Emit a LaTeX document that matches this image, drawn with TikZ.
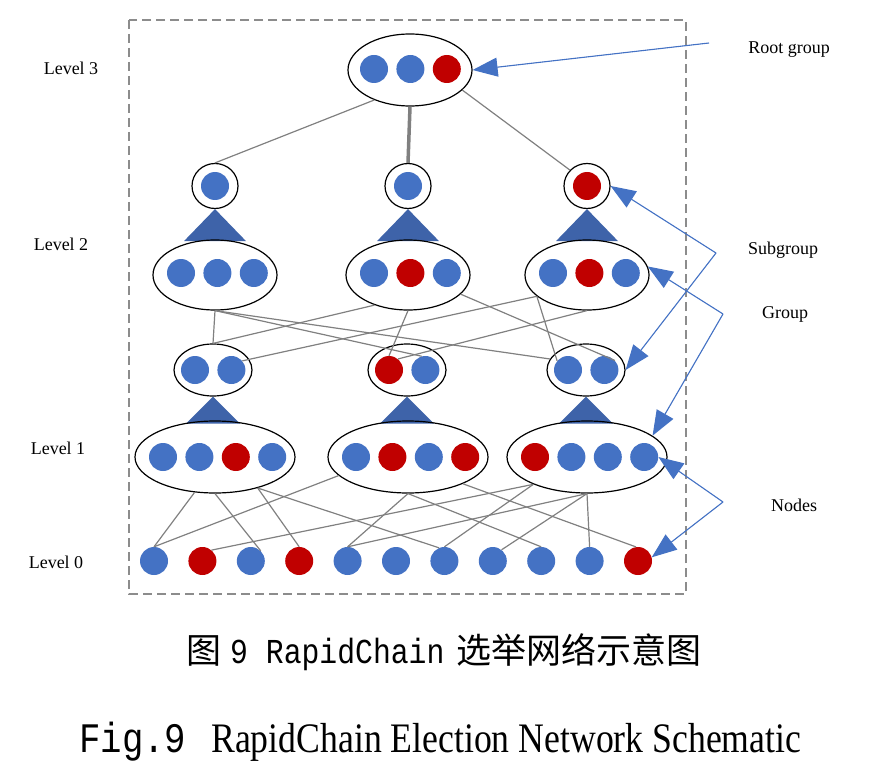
\documentclass[tikz,border=0pt]{standalone}
\usepackage{fontspec}
\setmainfont{Liberation Serif}
\newfontfamily\cjkfont{Noto Sans CJK SC}
\newfontfamily\capmono[FakeStretch=0.85]{Liberation Mono}
\newfontfamily\capserif[FakeStretch=0.85]{Liberation Serif}
\usepackage{tikz}
\usetikzlibrary{shapes.geometric, arrows.meta, positioning}
\definecolor{dotblue}{HTML}{4472C4}
\definecolor{dotred}{HTML}{C00000}
\definecolor{triblue}{HTML}{3E63A9}
\definecolor{edgegray}{HTML}{808080}
\definecolor{framegray}{HTML}{8C8C8C}
\tikzset{
  bdot/.style={
    circle, fill=dotblue, minimum size=28pt, inner sep=0pt
  },
  rdot/.style={
    bdot, fill=dotred
  },
  groupring/.style={
    ellipse, draw=black, line width=1.2pt, inner sep=0pt
  },
  edgeline/.style={
    draw=edgegray, line width=1.2pt
  },
  thickedge/.style={
    draw=edgegray, line width=3.5pt
  },
  notearrow/.style={
    -{Triangle[length=25pt, width=19pt]}, draw=dotblue, fill=dotblue,
    line width=1.1pt
  },
  levellabel/.style={
    font=\fontsize{18}{21}\selectfont, inner sep=0pt
  },
  notelabel/.style={
    font=\fontsize{18}{21}\selectfont, inner sep=0pt
  },
  framebox/.style={
    draw=framegray, line width=1.5pt, dash pattern=on 9pt off 5pt
  },
  pointer/.style={
    fill=triblue
  },
}

\begin{document}
\begin{tikzpicture}[x=1pt, y=-1pt]
  \useasboundingbox (0,0) rectangle (869,767);

  % Frame
  \draw[framebox] (129,20) rectangle (686,594);

  % Level labels
  \node[levellabel] (lv3) at (71,68) {Level 3};
  \node[levellabel] (lv2) at (61,244) {Level 2};
  \node[levellabel] (lv1) at (58,448) {Level 1};
  \node[levellabel] (lv0) at (56,562) {Level 0};

  % Level 3: root group
  \node[groupring, minimum width=124pt, minimum height=72pt] (root) at (410,70) {};
  \node[bdot] (root1) at (374,69) {};
  \node[bdot, right=8pt of root1] (root2) {};
  \node[rdot, right=8pt of root2] (root3) {};

  % Level 2: subgroups
  \node[groupring, minimum width=46pt, minimum height=45pt] (sub2a) at (215,186) {};
  \node[groupring, minimum width=46pt, minimum height=45pt] (sub2b) at (408,186) {};
  \node[groupring, minimum width=46pt, minimum height=45pt] (sub2c) at (587,186) {};
  \node[bdot] (sub2a1) at (sub2a) {};
  \node[bdot] (sub2b1) at (sub2b) {};
  \node[rdot] (sub2c1) at (sub2c) {};
  \fill[pointer] (sub2a.south) -- ++(31,32) -- ++(-62,0) -- cycle;
  \fill[pointer] (sub2b.south) -- ++(31,32) -- ++(-62,0) -- cycle;
  \fill[pointer] (sub2c.south) -- ++(31,32) -- ++(-62,0) -- cycle;

  % Level 2: groups
  \node[groupring, minimum width=124pt, minimum height=70pt] (grp2a) at (215,275) {};
  \node[groupring, minimum width=124pt, minimum height=70pt] (grp2b) at (408,275) {};
  \node[groupring, minimum width=124pt, minimum height=70pt] (grp2c) at (587,275) {};
  \node[bdot] (grp2a1) at (181,273) {};
  \node[bdot, right=8pt of grp2a1] (grp2a2) {};
  \node[bdot, right=8pt of grp2a2] (grp2a3) {};
  \node[bdot] (grp2b1) at (374,273) {};
  \node[rdot, right=8pt of grp2b1] (grp2b2) {};
  \node[bdot, right=8pt of grp2b2] (grp2b3) {};
  \node[bdot] (grp2c1) at (553,273) {};
  \node[rdot, right=8pt of grp2c1] (grp2c2) {};
  \node[bdot, right=8pt of grp2c2] (grp2c3) {};

  % Level 1: subgroups
  \node[groupring, minimum width=78pt, minimum height=52pt] (sub1a) at (213,370) {};
  \node[groupring, minimum width=78pt, minimum height=52pt] (sub1b) at (407,370) {};
  \node[groupring, minimum width=78pt, minimum height=52pt] (sub1c) at (586,370) {};
  \node[bdot] (sub1a1) at (195,370) {};
  \node[bdot, right=8pt of sub1a1] (sub1a2) {};
  \node[rdot] (sub1b1) at (389,370) {};
  \node[bdot, right=8pt of sub1b1] (sub1b2) {};
  \node[bdot] (sub1c1) at (568,370) {};
  \node[bdot, right=8pt of sub1c1] (sub1c2) {};
  \fill[pointer] (sub1a.south) -- ++(27,27) -- ++(-54,0) -- cycle;
  \fill[pointer] (sub1b.south) -- ++(27,27) -- ++(-54,0) -- cycle;
  \fill[pointer] (sub1c.south) -- ++(27,27) -- ++(-54,0) -- cycle;

  % Level 1: groups
  \node[groupring, minimum width=160pt, minimum height=72pt] (grp1a) at (215,457) {};
  \node[groupring, minimum width=160pt, minimum height=72pt] (grp1b) at (408,457) {};
  \node[groupring, minimum width=160pt, minimum height=72pt] (grp1c) at (587,457) {};
  \node[bdot] (grp1a1) at (163,457) {};
  \node[bdot, right=8pt of grp1a1] (grp1a2) {};
  \node[rdot, right=8pt of grp1a2] (grp1a3) {};
  \node[bdot, right=8pt of grp1a3] (grp1a4) {};
  \node[bdot] (grp1b1) at (356,457) {};
  \node[rdot, right=8pt of grp1b1] (grp1b2) {};
  \node[bdot, right=8pt of grp1b2] (grp1b3) {};
  \node[rdot, right=8pt of grp1b3] (grp1b4) {};
  \node[rdot] (grp1c1) at (535,457) {};
  \node[bdot, right=8pt of grp1c1] (grp1c2) {};
  \node[bdot, right=8pt of grp1c2] (grp1c3) {};
  \node[bdot, right=8pt of grp1c3] (grp1c4) {};

  % Level 0: nodes
  \node[bdot] (n0) at (154,561) {};
  \node[rdot, right=20pt of n0] (n1) {};
  \node[bdot, right=20pt of n1] (n2) {};
  \node[rdot, right=20pt of n2] (n3) {};
  \node[bdot, right=20pt of n3] (n4) {};
  \node[bdot, right=20pt of n4] (n5) {};
  \node[bdot, right=20pt of n5] (n6) {};
  \node[bdot, right=20pt of n6] (n7) {};
  \node[bdot, right=20pt of n7] (n8) {};
  \node[bdot, right=20pt of n8] (n9) {};
  \node[rdot, right=20pt of n9] (n10) {};

  % Root to level 2
  \draw[edgeline] (root.220) -- (sub2a.north);
  \draw[thickedge] (root.south) -- (sub2b.north);
  \draw[edgeline] (root.339) -- (sub2c.137);

  % Level 2 groups to level 1 subgroups
  \draw[edgeline] (grp2a.south) -- (sub1a.north);
  \draw[edgeline] (grp2a.south) -- (sub1b2.105);
  \draw[edgeline] (grp2a.south) -- (sub1c.163);
  \draw[edgeline] (grp2b.222) -- (sub1a.north);
  \draw[edgeline] (grp2b.south) -- (sub1b1.north);
  \draw[edgeline] (grp2b.340) -- (sub1c2.42);
  \draw[edgeline] (grp2c.203) -- (sub1a2.40);
  \draw[edgeline] (grp2c.south) -- (sub1b1.51);
  \draw[edgeline] (grp2c.203) -- (sub1c1.140);

  % Level 1 groups to level 0
  \draw[edgeline] (grp1a.240) -- (n0.north);
  \draw[edgeline] (grp1a.south) -- (n2.46);
  \draw[edgeline] (grp1a.324) -- (n3.north);
  \draw[edgeline] (grp1a.324) -- (n6.112);
  \draw[edgeline] (grp1b.195) -- (n0.north);
  \draw[edgeline] (grp1b.south) -- (n4.north);
  \draw[edgeline] (grp1b.south) -- (n8.north);
  \draw[edgeline] (grp1b.334) -- (n10.98);
  \draw[edgeline] (grp1c.207) -- (n1.50);
  \draw[edgeline] (grp1c.south) -- (n4.north);
  \draw[edgeline] (grp1c.207) -- (n6.north);
  \draw[edgeline] (grp1c.south) -- (n7.52);
  \draw[edgeline] (grp1c.south) -- (n9.north);

  % Annotations
  \node[notelabel] (lblroot) at (789,50) {Root group};
  \node[notelabel] (lblsub) at (783,250) {Subgroup};
  \node[notelabel] (lblgrp) at (785,314) {Group};
  \node[notelabel] (lblnode) at (794,505) {Nodes};
  \coordinate (rootarm) at (709,43);
  \coordinate (subknee) at (716,253);
  \coordinate (grpknee) at (723,314);
  \coordinate (nodeknee) at (723,502);
  \draw[notearrow] (rootarm) -- (root.east);
  \draw[notearrow] (subknee) -- (sub2c.east);
  \draw[notearrow] (subknee) -- (sub1c.east);
  \draw[notearrow] (grpknee) -- (grp2c.8);
  \draw[notearrow] (grpknee) -- (grp1c.18);
  \draw[notearrow] (nodeknee) -- (grp1c4.east);
  \draw[notearrow] (nodeknee) -- (n10.15);

  % Captions
  \node[anchor=base west, inner sep=0pt, font=\fontsize{35}{40}\selectfont]
    (capcn) at (186,663)
    {\cjkfont 图\hspace{9pt}{\capmono 9 RapidChain}\hspace{12pt}选举网络示意图};
  \node[anchor=base west, inner sep=0pt, font=\fontsize{42}{48}\selectfont]
    (capen) at (79,752)
    {{\capmono Fig.9}\hspace{25pt}{\capserif RapidChain Election Network Schematic}};
\end{tikzpicture}
\end{document}
